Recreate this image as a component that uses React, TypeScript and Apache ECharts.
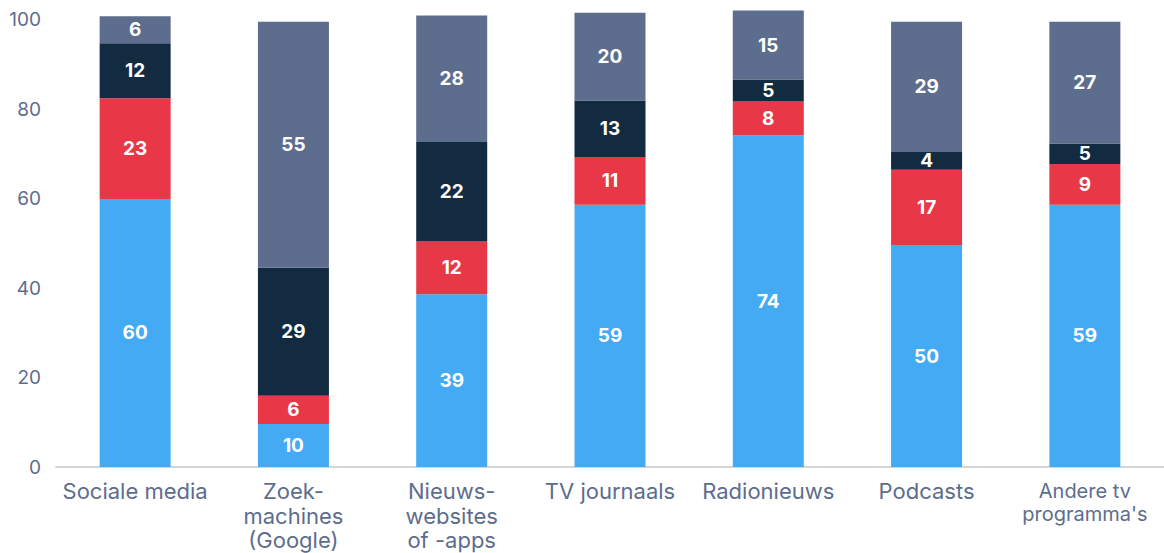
import { useEffect, useRef } from "react";
import * as echarts from "echarts";

const categories = [
  "Sociale media",
  "Zoek-\nmachines\n(Google)",
  "Nieuws-\nwebsites\nof -apps",
  "TV journaals",
  "Radionieuws",
  "Podcasts",
  "Andere tv\nprogramma's",
];
const seriesNames = ["Reeks 1", "Reeks 2", "Reeks 3", "Reeks 4"];
const valuesBlue = [59.9, 9.6, 38.6, 58.6, 74.1, 49.6, 58.6];
const valuesRed = [22.5, 6.3, 11.8, 10.7, 7.6, 16.8, 9.1];
const valuesNavy = [12.3, 28.6, 22.2, 12.6, 4.9, 4.0, 4.6];
const valuesSlate = [6.0, 55.0, 28.3, 19.6, 15.4, 29.1, 27.2];
const colors = ["#44aaf4", "#e83848", "#122b40", "#5d6d8d"];

export default function App() {
  const ref = useRef<HTMLDivElement>(null);
  useEffect(() => {
    if (!ref.current) return;
    const chart = echarts.init(ref.current, null, { renderer: "svg" });
    const font = "Inter, 'Noto Sans', sans-serif";
    const data = [valuesBlue, valuesRed, valuesNavy, valuesSlate];
    chart.setOption({
      animation: false,
      textStyle: { fontFamily: font },
      grid: { left: 56, right: -3, top: 19.5, bottom: 86, containLabel: false },
      xAxis: {
        type: "category",
        data: categories,
        axisTick: { show: false },
        axisLine: { lineStyle: { color: "#d6d6d6", width: 2 } },
        axisLabel: {
          interval: 0,
          fontSize: 22,
          lineHeight: 24.5,
          margin: 12,
          color: "#5d6d8d",
          fontFamily: font,
          formatter: (value: string, index: number) =>
            index === 6
              ? value
                  .split("\n")
                  .map((l) => `{s|${l}}`)
                  .join("\n")
              : value,
          rich: {
            s: { fontSize: 20, lineHeight: 23, color: "#5d6d8d", fontFamily: font },
          },
        },
      },
      yAxis: {
        type: "value",
        min: 0,
        max: 100,
        interval: 20,
        splitLine: { show: false },
        axisLine: { show: false },
        axisTick: { show: false },
        axisLabel: { fontSize: 19, color: "#5d6d8d", margin: 15, fontFamily: font },
      },
      series: data.map((vals, i) => ({
        name: seriesNames[i],
        type: "bar",
        stack: "total",
        barWidth: 71,
        clip: false,
        data: vals,
        itemStyle: { color: colors[i] },
        label: {
          show: true,
          position: "inside",
          color: "#ffffff",
          fontWeight: "bold",
          fontSize: 19,
          fontFamily: font,
          formatter: (p: any) => String(Math.round(p.value)),
        },
      })),
    });
    return () => chart.dispose();
  }, []);
  return (
    <div
      ref={ref}
      style={{ position: "absolute", left: 0, top: 0, width: 1164, height: 553 }}
    />
  );
}
